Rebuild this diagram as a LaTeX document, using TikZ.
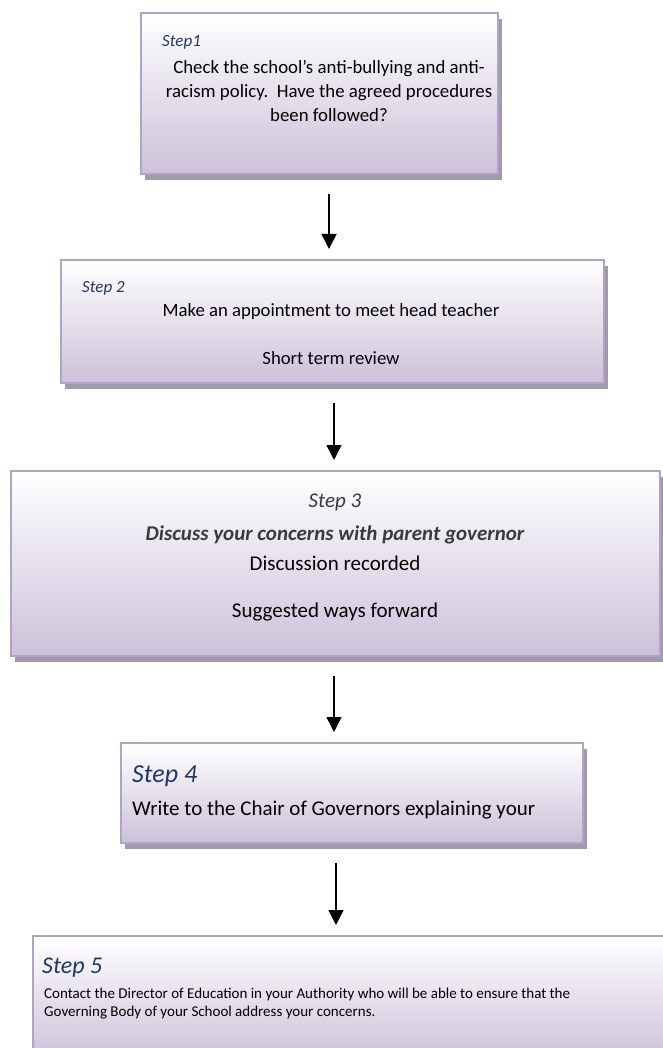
\documentclass[tikz,border=0pt]{standalone}
\usepackage{fontspec}
\setmainfont{Carlito}
\usetikzlibrary{arrows.meta,shadows}

\definecolor{boxline}{HTML}{B3A2C7}
\definecolor{boxfill}{HTML}{CCC1DA}
\definecolor{boxshade}{HTML}{A09AAA}
\definecolor{stepblue}{HTML}{1F3864}
\definecolor{darktext}{HTML}{3A3A3A}

\begin{document}
\begin{tikzpicture}[x=1pt,y=-1pt,>={Triangle[width=15pt,length=15pt]},
    stepbox/.style={draw=boxline,line width=1.6pt,top color=white,bottom color=boxfill,
        drop shadow={shadow xshift=4pt,shadow yshift=-6pt,fill=boxshade,opacity=1},
        anchor=north west,inner sep=0pt},
    steplabel/.style={anchor=west,inner sep=0pt,text=stepblue,font=\itshape#1},
    body/.style={inner sep=0pt,align=center,font=#1},
    flow/.style={->,line width=1.5pt,shorten <=19pt,shorten >=10pt}]
    \useasboundingbox (0,0) rectangle (662,1048);

    \node[stepbox,minimum width=357pt,minimum height=161pt] (box1) at (140,12) {};
    \node[steplabel=\fontsize{17}{20}\selectfont] (lab1) at (162,42) {Step1};
    \node[body=\fontsize{18.8}{24}\selectfont] (txt1) at (329,91)
        {Check the school’s anti-bullying and anti-\\racism policy.\ \ Have the agreed procedures\\been followed?};

    \node[stepbox,minimum width=543pt,minimum height=123pt] (box2) at (60,259) {};
    \node[steplabel=\fontsize{17}{20}\selectfont] (lab2) at (82,288) {Step 2};
    \node[body=\fontsize{18.7}{22}\selectfont] (txt2a) at (331,312) {Make an appointment to meet head teacher};
    \node[body=\fontsize{18.7}{22}\selectfont] (txt2b) at (331,358) {Short term review};

    \node[stepbox,minimum width=649pt,minimum height=185pt] (box3) at (10,470) {};
    \node[body=\itshape\fontsize{21}{25}\selectfont,text=darktext] (lab3) at (335,502) {Step 3};
    \node[body=\bfseries\itshape\fontsize{21}{25}\selectfont,text=darktext] (txt3a) at (335,535)
        {Discuss your concerns with parent governor};
    \node[body=\fontsize{21}{25}\selectfont] (txt3b) at (335,563) {Discussion recorded};
    \node[body=\fontsize{21}{25}\selectfont] (txt3c) at (335,612) {Suggested ways forward};

    \node[stepbox,minimum width=462pt,minimum height=100pt] (box4) at (120,742) {};
    \node[steplabel=\fontsize{26}{30}\selectfont] (lab4) at (132,776) {Step 4};
    \node[body=\fontsize{21}{25}\selectfont,anchor=west] (txt4) at (132,810)
        {Write to the Chair of Governors explaining your};

    \node[stepbox,minimum width=640pt,minimum height=125pt] (box5) at (32,935) {};
    \node[steplabel=\fontsize{24}{28}\selectfont] (lab5) at (42,968) {Step 5};
    \node[body=\fontsize{15}{18}\selectfont,align=left,anchor=north west] (txt5) at (44,988)
        {Contact the Director of Education in your Authority who will be able to ensure that the\\
         Governing Body of your School address your concerns.};

    \coordinate (ax1) at (329,0);
    \coordinate (ax2) at (334,0);
    \coordinate (ax3) at (336,0);
    \draw[flow] (box1.south -| ax1) -- (box2.north -| ax1);
    \draw[flow] (box2.south -| ax2) -- (box3.north -| ax2);
    \draw[flow] (box3.south -| ax2) -- (box4.north -| ax2);
    \draw[flow] (box4.south -| ax3) -- (box5.north -| ax3);
\end{tikzpicture}
\end{document}
